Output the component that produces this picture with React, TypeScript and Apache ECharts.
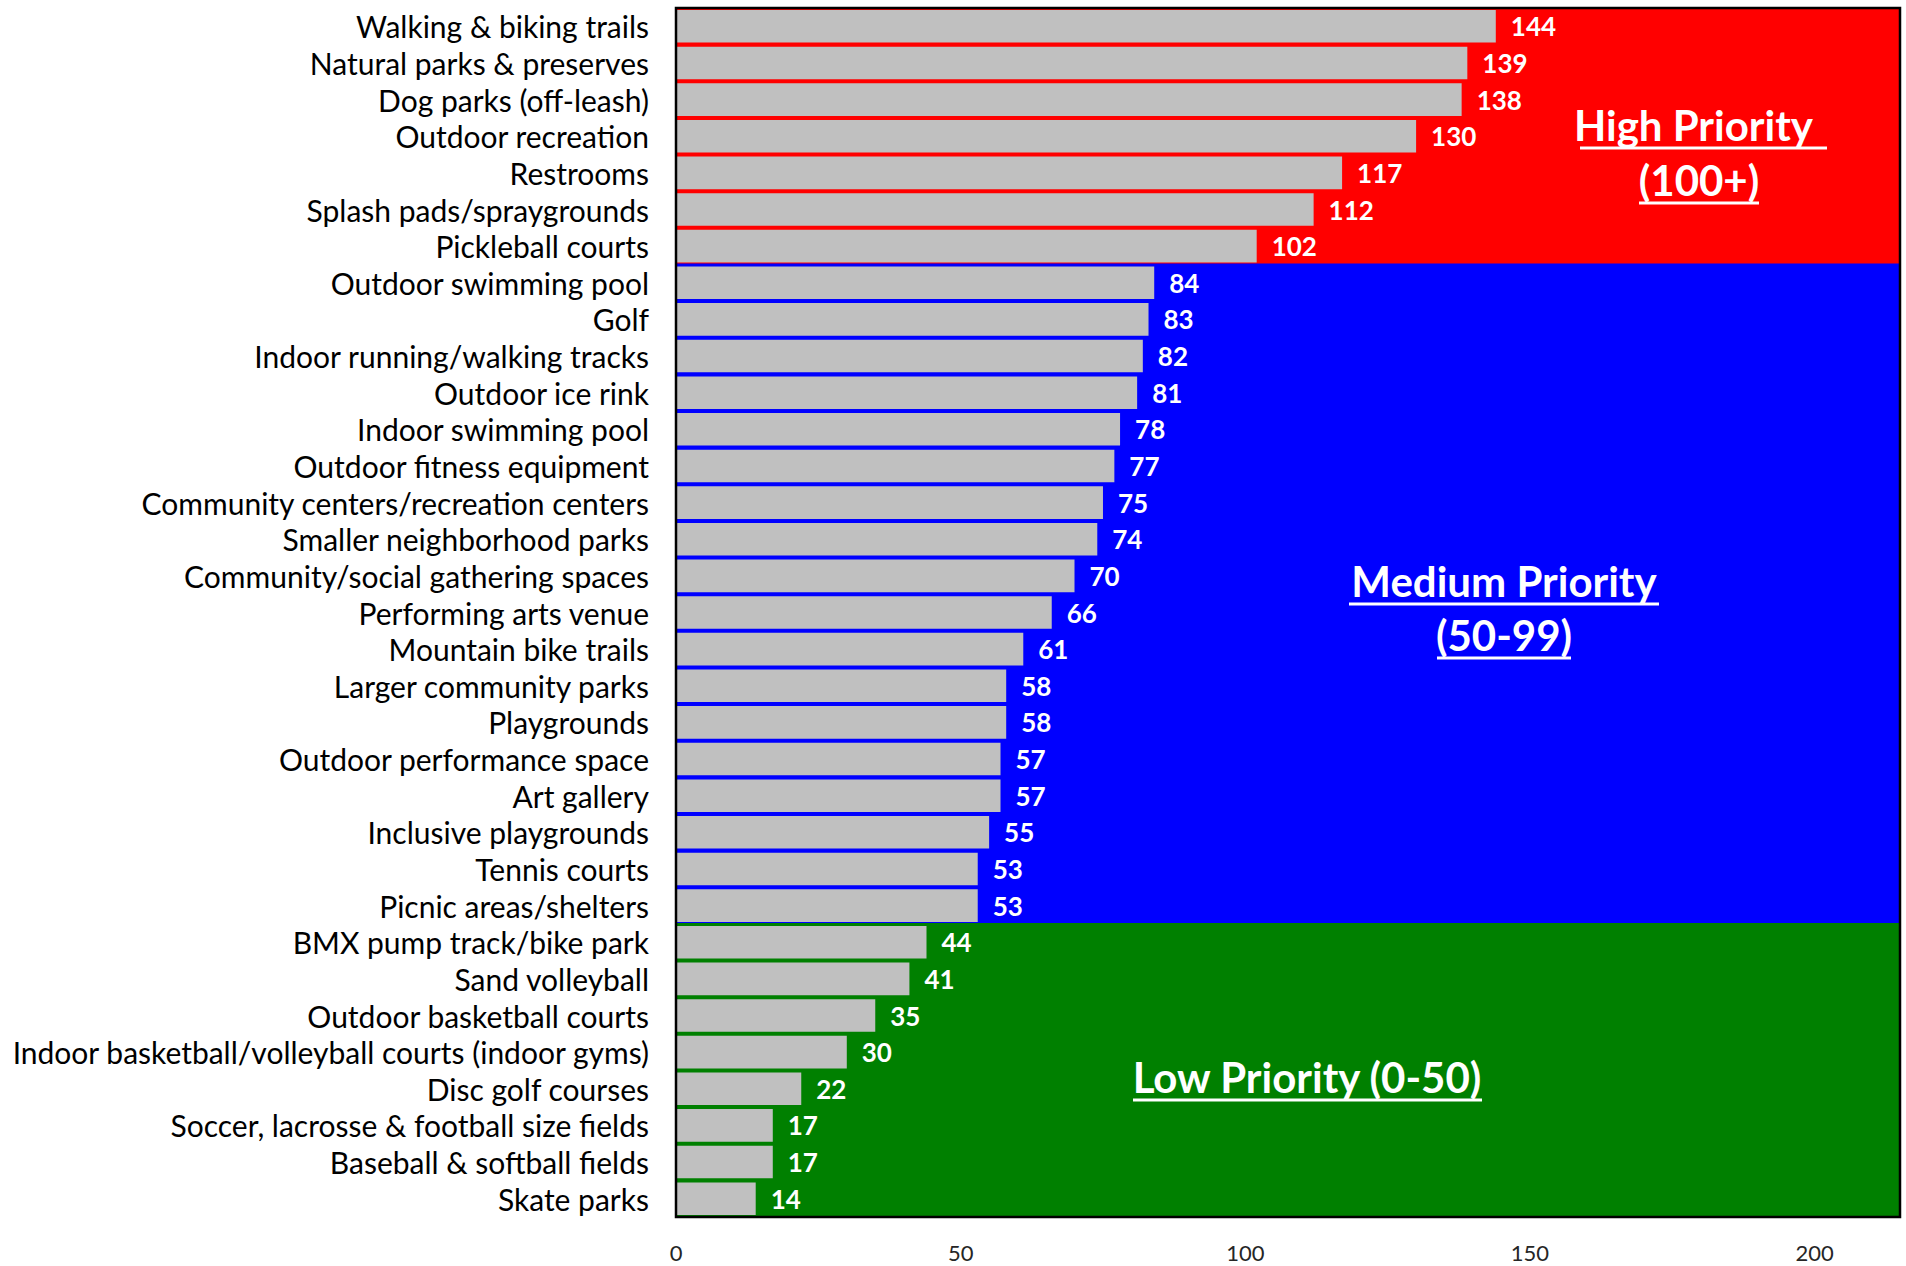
import React, { useEffect, useRef } from "react";
import * as echarts from "echarts";

const categories = [
  "Walking & biking trails",
  "Natural parks & preserves",
  "Dog parks (off-leash)",
  "Outdoor recreation",
  "Restrooms",
  "Splash pads/spraygrounds",
  "Pickleball courts",
  "Outdoor swimming pool",
  "Golf",
  "Indoor running/walking tracks",
  "Outdoor ice rink",
  "Indoor swimming pool",
  "Outdoor fitness equipment",
  "Community centers/recreation centers",
  "Smaller neighborhood parks",
  "Community/social gathering spaces",
  "Performing arts venue",
  "Mountain bike trails",
  "Larger community parks",
  "Playgrounds",
  "Outdoor performance space",
  "Art gallery",
  "Inclusive playgrounds",
  "Tennis courts",
  "Picnic areas/shelters",
  "BMX pump track/bike park",
  "Sand volleyball",
  "Outdoor basketball courts",
  "Indoor basketball/volleyball courts (indoor gyms)",
  "Disc golf courses",
  "Soccer, lacrosse & football size fields",
  "Baseball & softball fields",
  "Skate parks",
];

const values = [
  144, 139, 138, 130, 117, 112, 102, 84, 83, 82, 81, 78, 77, 75, 74, 70, 66,
  61, 58, 58, 57, 57, 55, 53, 53, 44, 41, 35, 30, 22, 17, 17, 14,
];

const axisMin = 0;
const axisMax = 215;
const tickInterval = 50;

const highThreshold = 100;
const mediumThreshold = 50;
const highColor = "#FF0000";
const mediumColor = "#0000FF";
const lowColor = "#008000";

const priorityLabels = {
  high: ["High Priority ", "(100+)"],
  medium: ["Medium Priority", "(50-99)"],
  low: ["Low Priority (0-50)"],
};

const FONT = "Lato, 'Open Sans', sans-serif";

function bandColor(v: number) {
  if (v >= highThreshold) return highColor;
  if (v >= mediumThreshold) return mediumColor;
  return lowColor;
}

export default function App() {
  const ref = useRef<HTMLDivElement>(null);

  useEffect(() => {
    if (!ref.current) return;
    const chart = echarts.init(ref.current, undefined, { renderer: "svg" });

    const titleStyle = {
      fill: "#FFFFFF",
      font: `bold 42px ${FONT}`,
      textAlign: "center",
      textVerticalAlign: "middle",
    };
    const ulStyle = { stroke: "#FFFFFF", lineWidth: 3 };

    chart.setOption({
      animation: false,
      backgroundColor: "#FFFFFF",
      textStyle: { fontFamily: FONT },
      grid: {
        left: 676,
        right: 6,
        top: 8,
        bottom: 49,
        show: true,
        z: 10,
        backgroundColor: "transparent",
        borderColor: "#000000",
        borderWidth: 2.5,
      },
      xAxis: {
        type: "value",
        min: axisMin,
        max: axisMax,
        interval: tickInterval,
        splitLine: { show: false },
        axisLine: { show: false },
        axisTick: { show: false },
        axisLabel: {
          showMaxLabel: false,
          color: "#262626",
          fontSize: 22,
          margin: 24,
          fontFamily: FONT,
        },
      },
      yAxis: {
        type: "category",
        data: categories,
        inverse: true,
        axisLine: { show: false },
        axisTick: { show: false },
        axisLabel: {
          interval: 0,
          color: "#000000",
          fontSize: 30,
          margin: 27,
          fontFamily: FONT,
        },
      },
      series: [
        {
          type: "custom",
          silent: true,
          z: 1,
          clip: true,
          encode: { x: 0, y: 1 },
          data: values.map((v, i) => ({
            value: [axisMax, i],
            itemStyle: { color: bandColor(v) },
          })),
          renderItem: (params: any, api: any) => {
            const start = api.coord([axisMin, api.value(1)]);
            const end = api.coord([api.value(0), api.value(1)]);
            const h = api.size([0, 1])[1];
            return {
              type: "rect",
              shape: {
                x: start[0],
                y: start[1] - h / 2 - 1,
                width: end[0] - start[0],
                height: h + 2,
              },
              style: { fill: api.visual("color") },
            };
          },
        },
        {
          type: "bar",
          barCategoryGap: "11%",
          z: 3,
          data: values,
          itemStyle: { color: "#C0C0C0" },
          label: {
            show: true,
            position: "right",
            distance: 15,
            color: "#FFFFFF",
            fontWeight: "bold",
            fontSize: 26,
            fontFamily: FONT,
          },
        },
      ],
      graphic: [
        { type: "text", x: 1698, y: 125, z: 20, style: { ...titleStyle, text: priorityLabels.high[0] } },
        { type: "line", z: 20, shape: { x1: 1580, y1: 148, x2: 1827, y2: 148 }, style: ulStyle },
        { type: "text", x: 1699, y: 180, z: 20, style: { ...titleStyle, text: priorityLabels.high[1] } },
        { type: "line", z: 20, shape: { x1: 1639, y1: 203, x2: 1759, y2: 203 }, style: ulStyle },
        { type: "text", x: 1504, y: 581, z: 20, style: { ...titleStyle, text: priorityLabels.medium[0] } },
        { type: "line", z: 20, shape: { x1: 1349, y1: 604, x2: 1659, y2: 604 }, style: ulStyle },
        { type: "text", x: 1504, y: 635, z: 20, style: { ...titleStyle, text: priorityLabels.medium[1] } },
        { type: "line", z: 20, shape: { x1: 1437, y1: 658, x2: 1571, y2: 658 }, style: ulStyle },
        { type: "text", x: 1307, y: 1077, z: 20, style: { ...titleStyle, text: priorityLabels.low[0] } },
        { type: "line", z: 20, shape: { x1: 1133, y1: 1100, x2: 1482, y2: 1100 }, style: ulStyle },
      ],
    });

    return () => chart.dispose();
  }, []);

  return (
    <div
      ref={ref}
      style={{ position: "fixed", left: 0, top: 0, width: 1906, height: 1266 }}
    />
  );
}
